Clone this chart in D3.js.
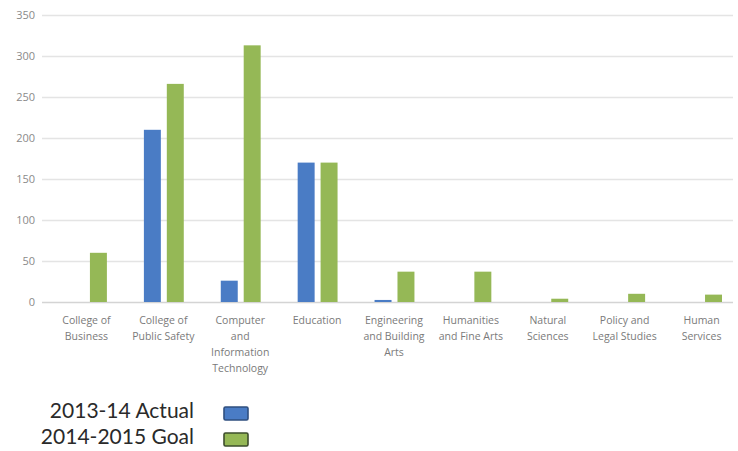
<!DOCTYPE html>
<html>
<head>
<meta charset="utf-8">
<script src="https://cdn.jsdelivr.net/npm/d3@7"></script>
<style>
  html, body { margin: 0; padding: 0; background: #fff; }
  svg { display: block; }
</style>
</head>
<body>
<svg id="chart" width="738" height="451"></svg>
<script>
// Colleges (multi-line labels split on "|")
const categories = [
  "College of|Business",
  "College of|Public Safety",
  "Computer|and|Information|Technology",
  "Education",
  "Engineering|and Building|Arts",
  "Humanities|and Fine Arts",
  "Natural|Sciences",
  "Policy and|Legal Studies",
  "Human|Services"
];
const seriesNames = ["2013-14 Actual", "2014-2015 Goal"];
const actual2013 = [0, 210, 26, 170, 2.5, 0, 0, 0, 0];
const goal2014 = [60, 266, 313, 170, 37, 37, 4, 10, 9];
const yTicks = [0, 50, 100, 150, 200, 250, 300, 350];
const colors = ["#4a7cc5", "#95b856"];
const borders = ["#2f4f7f", "#3d4d2c"];

const svg = d3.select("#chart");

const x = d3.scaleBand().domain(d3.range(categories.length)).range([48, 740]).paddingInner(0).paddingOuter(0);
const inner = d3.scaleBand().domain([0, 1]).range([19, x.bandwidth() - 18]).paddingInner(0.26);
const y = d3.scaleLinear().domain([0, 350]).range([302, 15]);

// gridlines
svg.append("g")
  .selectAll("line")
  .data(yTicks)
  .join("line")
  .attr("x1", 42).attr("x2", 733)
  .attr("y1", d => y(d) + 0.5).attr("y2", d => y(d) + 0.5)
  .attr("stroke", d => d === 0 ? "#d4d4d4" : "#e4e4e4")
  .attr("stroke-width", 1.4);

// y axis labels
const yAxis = d3.axisLeft(y).tickValues(yTicks).tickSize(0).tickPadding(0);
const ya = svg.append("g").attr("transform", "translate(35,0)").call(yAxis);
ya.select(".domain").remove();
ya.selectAll("text")
  .attr("fill", "#8a8a8a")
  .style("font-family", "'Open Sans', sans-serif")
  .style("font-size", "11px");

// bars
const series = [actual2013, goal2014];
series.forEach((vals, s) => {
  svg.append("g")
    .selectAll("rect")
    .data(vals.map((v, i) => ({ v, i })).filter(d => d.v > 0))
    .join("rect")
    .attr("x", d => x(d.i) + inner(s))
    .attr("width", inner.bandwidth())
    .attr("y", d => y(d.v))
    .attr("height", d => y(0) - y(d.v))
    .attr("fill", colors[s]);
});

// category labels
const xl = svg.append("g");
categories.forEach((c, i) => {
  const t = xl.append("text")
    .attr("x", x(i) + x.bandwidth() / 2)
    .attr("y", 324)
    .attr("text-anchor", "middle")
    .attr("fill", "#7a7a7a")
    .style("font-family", "'Open Sans', sans-serif")
    .style("font-size", "10.5px");
  c.split("|").forEach((line, k) => {
    t.append("tspan")
      .attr("x", x(i) + x.bandwidth() / 2)
      .attr("dy", k === 0 ? 0 : 16)
      .text(line);
  });
});

// legend
const legend = svg.append("g");
seriesNames.forEach((name, s) => {
  const baseY = 418 + s * 26;
  legend.append("text")
    .attr("x", 194)
    .attr("y", baseY)
    .attr("text-anchor", "end")
    .attr("fill", "#2a2a2a")
    .style("font-family", "Lato, sans-serif")
    .style("font-size", "21px")
    .text(name);
  legend.append("rect")
    .attr("x", 224).attr("y", baseY - 11)
    .attr("width", 24).attr("height", 13)
    .attr("rx", 1.5)
    .attr("fill", colors[s])
    .attr("stroke", borders[s])
    .attr("stroke-width", 1.6);
});
</script>
</body>
</html>
